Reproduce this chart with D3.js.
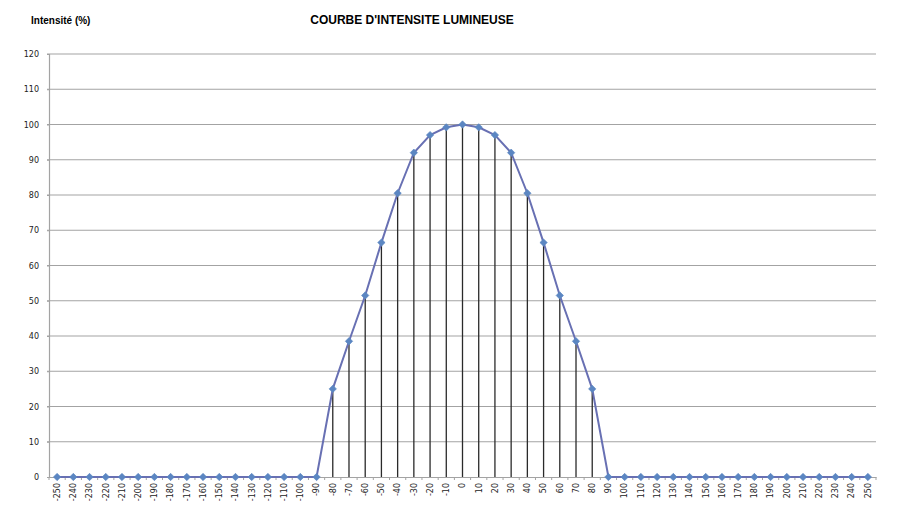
<!DOCTYPE html>
<html>
<head>
<meta charset="utf-8">
<script src="https://cdn.jsdelivr.net/npm/d3@7"></script>
<style>
  body { margin: 0; background: #fff; }
  svg { display: block; font-family: "Liberation Sans", Arial, sans-serif; }
</style>
</head>
<body>
<svg id="chart" width="900" height="527"></svg>
<script>
const angles = [-250,-240,-230,-220,-210,-200,-190,-180,-170,-160,-150,-140,-130,-120,-110,-100,
  -90,-80,-70,-60,-50,-40,-30,-20,-10,0,10,20,30,40,50,60,70,80,90,
  100,110,120,130,140,150,160,170,180,190,200,210,220,230,240,250];
const intensity = [0,0,0,0,0,0,0,0,0,0,0,0,0,0,0,0,
  0,25,38.5,51.5,66.5,80.5,92,97,99.2,100,99.2,97,92,80.5,66.5,51.5,38.5,25,0,
  0,0,0,0,0,0,0,0,0,0,0,0,0,0,0,0];
const yTicks = [0,10,20,30,40,50,60,70,80,90,100,110,120];
const title = "COURBE D'INTENSITE LUMINEUSE";
const yTitle = "Intensité (%)";

const svg = d3.select("#chart");
const m = {left: 49, right: 24, top: 54, bottom: 50};
const W = 900, H = 527;
const x = d3.scaleBand().domain(angles).range([m.left, W - m.right]).padding(0);
const y = d3.scaleLinear().domain([0, 120]).range([H - m.bottom, m.top]);
const cx = d => x(d) + x.bandwidth() / 2;

// gridlines
svg.append("g").selectAll("line").data(yTicks.filter(t => t > 0)).join("line")
  .attr("x1", m.left - 2).attr("x2", W - m.right)
  .attr("y1", d => y(d)).attr("y2", d => y(d))
  .attr("stroke", "#a3a3a3").attr("stroke-width", 1.2);

// y axis
const yAxis = svg.append("g").attr("transform", `translate(${m.left},0)`)
  .call(d3.axisLeft(y).tickValues(yTicks).tickSize(2).tickPadding(8));
yAxis.select(".domain").attr("stroke", "#a3a3a3").attr("stroke-width", 1.2);
yAxis.selectAll(".tick line").attr("stroke", "#a3a3a3");
yAxis.selectAll("text").attr("font-size", 8).attr("fill", "#222")
  .attr("font-family", "DejaVu Sans, sans-serif");

// drop lines
const pts = angles.map((a, i) => ({a, v: intensity[i]}));
svg.append("g").selectAll("line").data(pts.filter(p => p.v > 0)).join("line")
  .attr("x1", d => cx(d.a)).attr("x2", d => cx(d.a))
  .attr("y1", d => y(d.v)).attr("y2", y(0))
  .attr("stroke", "#2a2a2a").attr("stroke-width", 1.3);

// x axis
const xAxis = svg.append("g").attr("transform", `translate(0,${y(0)})`)
  .call(d3.axisBottom(x).tickSize(0).tickPadding(6));
xAxis.select(".domain").attr("stroke", "#a3a3a3").attr("stroke-width", 1.2);
xAxis.selectAll("text")
  .attr("font-size", 8).attr("fill", "#222")
  .attr("font-family", "DejaVu Sans, sans-serif")
  .attr("text-anchor", "end")
  .attr("transform", "rotate(-90)")
  .attr("x", -6).attr("y", 0).attr("dy", "0.35em");
// minor ticks between categories
svg.append("g").selectAll("line").data(angles.concat([null])).join("line")
  .attr("x1", (d, i) => m.left + i * x.step()).attr("x2", (d, i) => m.left + i * x.step())
  .attr("y1", y(0)).attr("y2", y(0) + 3)
  .attr("stroke", "#a3a3a3");

// curve
svg.append("path").datum(pts)
  .attr("fill", "none").attr("stroke", "#6870b3").attr("stroke-width", 2)
  .attr("d", d3.line().x(d => cx(d.a)).y(d => y(d.v)));

// markers (rotated squares)
svg.append("g").selectAll("rect").data(pts).join("rect")
  .attr("x", -2.6).attr("y", -2.6).attr("width", 5.2).attr("height", 5.2)
  .attr("transform", d => `translate(${cx(d.a)},${y(d.v)}) rotate(45)`)
  .attr("fill", "#5b86c2").attr("stroke", "#5b86c2").attr("stroke-width", 0.6);

// titles
svg.append("text").attr("x", 412).attr("y", 24).attr("text-anchor", "middle")
  .attr("font-size", 12).attr("font-weight", "bold").attr("fill", "#000").text(title);
svg.append("text").attr("x", 31).attr("y", 24)
  .attr("font-size", 10).attr("font-weight", "bold").attr("fill", "#000").text(yTitle);
</script>
</body>
</html>
